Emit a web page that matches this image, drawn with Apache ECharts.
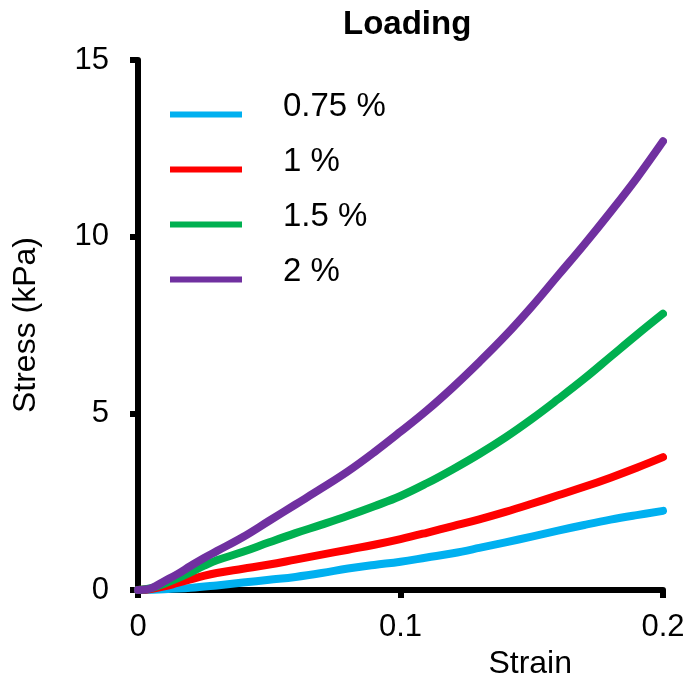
<!DOCTYPE html>
<html>
<head>
<meta charset="utf-8">
<script src="https://cdn.jsdelivr.net/npm/echarts@6/dist/echarts.min.js"></script>
<style>
  html, body { margin: 0; padding: 0; background: #fff; }
  #chart { width: 689px; height: 684px; }
</style>
</head>
<body>
<div id="chart"></div>
<script>
// Stress-strain loading curves at four concentrations
const seriesNames = ['0.75 %', '1 %', '1.5 %', '2 %'];
const seriesColors = ['#00B0F0', '#FF0000', '#00B050', '#7030A0'];

const strain075 = [0, 0.01, 0.02, 0.03, 0.04, 0.05, 0.06, 0.07, 0.08, 0.09, 0.10, 0.11, 0.12, 0.13, 0.14, 0.15, 0.16, 0.17, 0.18, 0.19, 0.20];
const stress075 = [0, 0.02, 0.06, 0.13, 0.21, 0.29, 0.37, 0.48, 0.61, 0.71, 0.80, 0.92, 1.04, 1.19, 1.35, 1.51, 1.68, 1.84, 1.99, 2.12, 2.24];

const strain1 = [0, 0.005, 0.01, 0.015, 0.02, 0.025, 0.03, 0.04, 0.05, 0.06, 0.07, 0.08, 0.09, 0.10, 0.11, 0.12, 0.13, 0.14, 0.15, 0.16, 0.17, 0.18, 0.19, 0.20];
const stress1 = [0, 0.03, 0.10, 0.20, 0.30, 0.40, 0.48, 0.60, 0.72, 0.86, 1.00, 1.14, 1.28, 1.44, 1.62, 1.81, 2.00, 2.21, 2.44, 2.68, 2.92, 3.18, 3.46, 3.76];

const strain15 = [0, 0.005, 0.01, 0.015, 0.02, 0.025, 0.03, 0.04, 0.05, 0.06, 0.07, 0.08, 0.09, 0.10, 0.11, 0.12, 0.13, 0.14, 0.15, 0.16, 0.17, 0.18, 0.19, 0.20];
const stress15 = [0, 0.05, 0.18, 0.33, 0.50, 0.68, 0.84, 1.08, 1.35, 1.61, 1.85, 2.10, 2.37, 2.66, 3.02, 3.42, 3.85, 4.32, 4.84, 5.40, 5.98, 6.60, 7.22, 7.82];

const strain2 = [0, 0.005, 0.01, 0.015, 0.02, 0.025, 0.03, 0.04, 0.05, 0.06, 0.07, 0.08, 0.09, 0.10, 0.11, 0.12, 0.13, 0.14, 0.15, 0.16, 0.17, 0.18, 0.19, 0.20];
const stress2 = [0, 0.05, 0.25, 0.45, 0.68, 0.90, 1.10, 1.50, 1.96, 2.42, 2.88, 3.36, 3.90, 4.48, 5.08, 5.74, 6.45, 7.20, 8.02, 8.90, 9.78, 10.70, 11.66, 12.70];

const xTickLabels = ['0', '0.1', '0.2'];
const yTickLabels = ['0', '5', '10', '15'];

const strains = [strain075, strain1, strain15, strain2];
const stresses = [stress075, stress1, stress15, stress2];

const FONT = '"Liberation Sans", Arial, sans-serif';

// Legend swatch: a thin bar sitting at the bottom of a taller icon box, so the
// label text rides slightly above the bar. The first zero-area subpath only
// reserves the top of the box and draws nothing.
const LEGEND_ICON = 'path://M0,0 L1,0 L1,0 Z M0,16 L72,16 L72,22 L0,22 Z';

const chart = echarts.init(document.getElementById('chart'), null, { renderer: 'canvas' });

const series = seriesNames.map((name, i) => ({
  name: name,
  type: 'line',
  data: strains[i].map((x, j) => [x, stresses[i][j]]),
  showSymbol: false,
  smooth: 0.4,
  lineStyle: { color: seriesColors[i], width: 8, cap: 'round', join: 'round' },
  itemStyle: { color: seriesColors[i] },
  z: 2 + i,
  animation: false
}));

chart.setOption({
  backgroundColor: '#ffffff',
  animation: false,
  title: {
    text: 'Loading',
    left: 343,
    top: 8,
    padding: 0,
    textStyle: { fontFamily: FONT, fontSize: 33, fontWeight: 'bold', color: '#000' }
  },
  legend: {
    data: seriesNames,
    orient: 'vertical',
    left: 170,
    top: 90,
    padding: 0,
    itemWidth: 72,
    itemHeight: 22,
    itemGap: 22,
    icon: LEGEND_ICON,
    textStyle: {
      fontFamily: FONT,
      fontSize: 33,
      color: '#000',
      lineHeight: 33,
      padding: [0, 0, 0, 36]
    }
  },
  grid: { left: 138, right: 26, top: 60, bottom: 94, containLabel: false },
  xAxis: {
    type: 'value',
    min: 0,
    max: 0.2,
    interval: 0.1,
    name: 'Strain',
    nameLocation: 'end',
    nameGap: -91,
    nameTextStyle: {
      fontFamily: FONT, fontSize: 32, color: '#000',
      align: 'right', verticalAlign: 'top', padding: [58, 0, 0, 0]
    },
    axisLine: { lineStyle: { color: '#000', width: 6 } },
    axisTick: { length: 8, lineStyle: { color: '#000', width: 6 } },
    axisLabel: {
      margin: 22,
      fontFamily: FONT, fontSize: 31, color: '#000',
      formatter: (v) => xTickLabels[Math.round(v / 0.1)]
    },
    splitLine: { show: false }
  },
  yAxis: {
    type: 'value',
    min: 0,
    max: 15,
    interval: 5,
    name: 'Stress (kPa)',
    nameLocation: 'middle',
    nameGap: 96,
    nameTextStyle: { fontFamily: FONT, fontSize: 32, color: '#000' },
    axisLine: { lineStyle: { color: '#000', width: 6 } },
    axisTick: { length: 8, lineStyle: { color: '#000', width: 6 } },
    axisLabel: {
      margin: 29,
      fontFamily: FONT, fontSize: 31, color: '#000',
      formatter: (v) => yTickLabels[Math.round(v / 5)]
    },
    splitLine: { show: false }
  },
  series: series
});
</script>
</body>
</html>
